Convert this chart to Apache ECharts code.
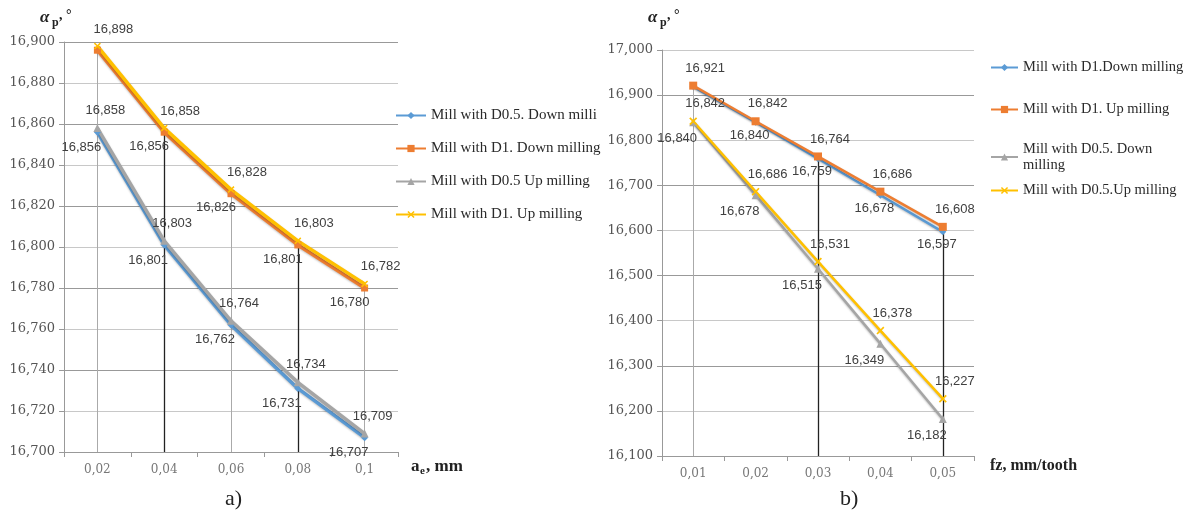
<!DOCTYPE html>
<html>
<head>
<meta charset="utf-8">
<script src="https://cdn.jsdelivr.net/npm/echarts@6/dist/echarts.min.js"></script>
<style>
html,body{margin:0;padding:0;background:#fff;}
#chart{width:1188px;height:512px;}
</style>
</head>
<body>
<div id="chart"></div>
<script>
// ---- chart a) ----
const catsA = ['0,02', '0,04', '0,06', '0,08', '0,1'];
const aD05Down = [16.856, 16.801, 16.762, 16.731, 16.707];
const aD1Down  = [16.896, 16.856, 16.826, 16.801, 16.780];
const aD05Up   = [16.858, 16.803, 16.764, 16.734, 16.709];
const aD1Up    = [16.898, 16.858, 16.828, 16.803, 16.782];
const aYMin = 16.7, aYMax = 16.9, aYStep = 0.02;
const namesA = ['Mill with D0.5. Down milling', 'Mill with D1. Down milling', 'Mill with D0.5 Up milling', 'Mill with D1. Up milling'];

// ---- chart b) ----
const catsB = ['0,01', '0,02', '0,03', '0,04', '0,05'];
const bD1Down  = [16.919, 16.840, 16.759, 16.678, 16.597];
const bD1Up    = [16.921, 16.842, 16.764, 16.686, 16.608];
const bD05Down = [16.840, 16.678, 16.515, 16.349, 16.182];
const bD05Up   = [16.842, 16.686, 16.531, 16.378, 16.227];
const bYMin = 16.1, bYMax = 17.0, bYStep = 0.1;
const namesB = ['Mill with D1.Down milling', 'Mill with D1. Up milling ', 'Mill with D0.5. Down milling ', 'Mill with D0.5.Up milling'];

const C_BLUE = '#5B9BD5', C_ORANGE = '#ED7D31', C_GRAY = '#A5A5A5', C_YELLOW = '#FFC000';
const XSYM = 'path://M0,1.5 L1.5,0 L5,3.5 L8.5,0 L10,1.5 L6.5,5 L10,8.5 L8.5,10 L5,6.5 L1.5,10 L0,8.5 L3.5,5 Z';
const fmt = v => v.toFixed(3).replace('.', ',');

function mk(values, hideIdx) {
  return values.map((v, i) => i === hideIdx ? {value: v, label: {show: false}} : v);
}
function dropLines(values, yMin, spec) {
  return spec.map(s => [
    {coord: [s.i, values[s.i]], lineStyle: {color: s.c, width: s.w, type: 'solid'}},
    {coord: [s.i, yMin]}
  ]);
}

function mkSeries(name, data, color, symbol, size, axis, pos, offset, width, markLine) {
  const s = {
    name, type: 'line', data, xAxisIndex: axis, yAxisIndex: axis,
    symbol, symbolSize: size, showAllSymbol: true,
    itemStyle: {color},
    lineStyle: {color, width, shadowColor: 'rgba(0,0,0,0.25)', shadowBlur: 2, shadowOffsetY: 1},
    label: {
      show: true, position: pos, offset, distance: 4,
      color: '#404040', fontFamily: 'Liberation Sans', fontSize: 13,
      formatter: p => fmt(p.value)
    },
    z: 3
  };
  if (markLine) s.markLine = markLine;
  return s;
}

const yLabel = {color: '#555', fontFamily: 'DejaVu Serif', fontSize: 13, margin: 9, formatter: v => fmt(v)};
const xLabel = {color: '#777', fontFamily: 'DejaVu Serif', fontSize: 12, margin: 12};
const axisLineStyle = {show: true, lineStyle: {color: '#999', width: 1}};
const legText = (size, extra) => Object.assign({fontFamily: 'Liberation Serif', fontSize: size, color: '#2a2a2a'}, extra || {});

const option = {
  animation: false,
  backgroundColor: '#fff',
  grid: [
    {left: 64, top: 42, width: 334, height: 410},
    {left: 662, top: 50, width: 312, height: 406}
  ],
  xAxis: [
    {type: 'category', gridIndex: 0, data: catsA, boundaryGap: true,
     axisLine: axisLineStyle, axisTick: {show: true, length: 5, lineStyle: {color: '#999'}},
     axisLabel: xLabel, splitLine: {show: false}},
    {type: 'category', gridIndex: 1, data: catsB, boundaryGap: true,
     axisLine: axisLineStyle, axisTick: {show: true, length: 5, lineStyle: {color: '#999'}},
     axisLabel: xLabel, splitLine: {show: false}}
  ],
  yAxis: [
    {type: 'value', gridIndex: 0, min: aYMin, max: aYMax, interval: aYStep,
     axisLine: axisLineStyle, axisTick: {show: true, length: 5, lineStyle: {color: '#999'}},
     axisLabel: yLabel,
     splitLine: {show: true, lineStyle: {color: ['#999', '#c8c8c8'], width: 1}}},
    {type: 'value', gridIndex: 1, min: bYMin, max: bYMax, interval: bYStep,
     axisLine: axisLineStyle, axisTick: {show: true, length: 5, lineStyle: {color: '#999'}},
     axisLabel: yLabel,
     splitLine: {show: true, lineStyle: {color: ['#999', '#c8c8c8'], width: 1}}}
  ],
  legend: [
    {data: namesA, orient: 'vertical', left: 390, top: 103, itemGap: 18,
     itemWidth: 30, itemHeight: 9,
     textStyle: legText(15, {width: 173, overflow: 'truncate', ellipsis: ''})},
    {data: namesB.slice(0, 2), orient: 'vertical', left: 985, top: 55, itemGap: 27,
     itemWidth: 27, itemHeight: 9, textStyle: legText(14.5)},
    {data: namesB.slice(2, 3), orient: 'vertical', left: 985, top: 136,
     itemWidth: 27, itemHeight: 9,
     textStyle: legText(14.5, {width: 150, overflow: 'break', lineHeight: 16})},
    {data: namesB.slice(3, 4), orient: 'vertical', left: 985, top: 178,
     itemWidth: 27, itemHeight: 9, textStyle: legText(14.5)}
  ],
  series: [
    mkSeries(namesA[0], mk(aD05Down), C_BLUE, 'diamond', 7, 0, 'bottom', [-16, 1], 3.5),
    mkSeries(namesA[1], mk(aD1Down, 0), C_ORANGE, 'rect', 7, 0, 'bottom', [-15, 0], 3.5),
    mkSeries(namesA[2], mk(aD05Up), C_GRAY, 'triangle', 8, 0, 'top', [8, -3], 3.5),
    mkSeries(namesA[3], mk(aD1Up), C_YELLOW, XSYM, 7, 0, 'top', [16, -3], 3.5, {
      symbol: 'none', silent: true, label: {show: false}, z: 1,
      data: dropLines(aD1Up, aYMin, [
        {i: 0, c: '#aaa', w: 1}, {i: 1, c: '#222', w: 1.3}, {i: 2, c: '#aaa', w: 1},
        {i: 3, c: '#222', w: 1.3}, {i: 4, c: '#aaa', w: 1}])
    }),
    mkSeries(namesB[0], mk(bD1Down, 0), C_BLUE, 'diamond', 7, 1, 'bottom', [-6, -1], 2.5, {
      symbol: 'none', silent: true, label: {show: false}, z: 1,
      data: dropLines(bD1Down, bYMin, [
        {i: 0, c: '#aaa', w: 1}, {i: 2, c: '#222', w: 1.3}, {i: 4, c: '#222', w: 1.3}])
    }),
    mkSeries(namesB[1], mk(bD1Up), C_ORANGE, 'rect', 8, 1, 'top', [12, -3], 2.5),
    mkSeries(namesB[2], mk(bD05Down), C_GRAY, 'triangle', 8, 1, 'bottom', [-16, 2], 2.5),
    mkSeries(namesB[3], mk(bD05Up), C_YELLOW, XSYM, 8, 1, 'top', [12, -3], 2.5)
  ],
  graphic: [
    {type: 'text', left: 40, top: 9, style: {text: 'α', font: 'italic bold 17px "Liberation Serif"', fill: '#222'}},
    {type: 'text', left: 52, top: 17, style: {text: 'p', font: 'bold 12px "Liberation Serif"', fill: '#222'}},
    {type: 'text', left: 59, top: 8, style: {text: ', °', font: 'bold 14px "Liberation Serif"', fill: '#222'}},
    {type: 'text', left: 648, top: 9, style: {text: 'α', font: 'italic bold 17px "Liberation Serif"', fill: '#222'}},
    {type: 'text', left: 660, top: 17, style: {text: 'p', font: 'bold 12px "Liberation Serif"', fill: '#222'}},
    {type: 'text', left: 667, top: 8, style: {text: ', °', font: 'bold 14px "Liberation Serif"', fill: '#222'}},
    {type: 'text', left: 411, top: 458, style: {text: 'a', font: 'bold 17px "Liberation Serif"', fill: '#222'}},
    {type: 'text', left: 420, top: 466, style: {text: 'e', font: 'bold 11px "Liberation Serif"', fill: '#222'}},
    {type: 'text', left: 426, top: 458, style: {text: ', mm', font: 'bold 17px "Liberation Serif"', fill: '#222'}},
    {type: 'text', left: 990, top: 458, style: {text: 'fz, mm/tooth', font: 'bold 16px "Liberation Serif"', fill: '#222'}},
    {type: 'text', left: 225, top: 488, style: {text: 'a)', font: '22px "Liberation Serif"', fill: '#222'}},
    {type: 'text', left: 840, top: 488, style: {text: 'b)', font: '22px "Liberation Serif"', fill: '#222'}}
  ]
};

const chart = echarts.init(document.getElementById('chart'), null, {renderer: 'canvas'});
chart.setOption(option);
</script>
</body>
</html>
